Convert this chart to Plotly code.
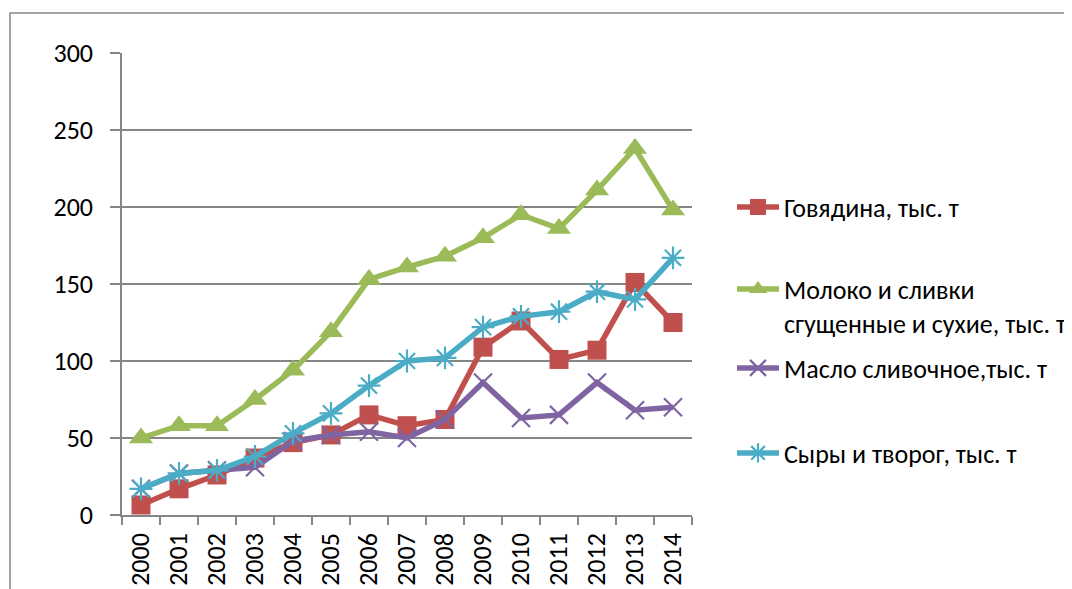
import plotly.graph_objects as go

years = [str(y) for y in range(2000, 2015)]
beef = [6.5, 17, 26, 37, 47, 52, 65, 58, 62, 109, 126, 101, 107, 151, 125]
milk = [50, 58, 58, 75, 94, 119, 153, 161, 168, 180, 195, 186, 211, 238, 198]
butter = [17, 27, 29, 31, 48, 52, 54, 50, 62, 86, 63, 65, 86, 68, 70]
cheese = [17, 27, 29, 38, 53, 66, 84, 100, 102, 122, 129, 132, 145, 140, 167]

names = ["Говядина, тыс. т",
         "Молоко и сливки<br>сгущенные и сухие, тыс. т",
         "Масло сливочное,тыс. т",
         "Сыры и творог, тыс. т"]
colors = ["#C0504D", "#9BBB59", "#8064A2", "#4BACC6"]
series = [beef, milk, butter, cheese]
symbols = ["square", "triangle-up", "x-thin-open", "asterisk-open"]
sizes = [19, 21, 18, 19]
legend_ids = ["legend", "legend2", "legend3", "legend4"]
legend_centers = [207, 306, 368, 453]  # screen y of legend item centres

FONT = "Calibri, Carlito, Lato, sans-serif"
FS = 26
OFF = 8  # default body margin of the html page

W, H = 1072 - OFF, 589 - OFF
l, r, t, b = 122 - OFF, 1072 - 692, 53 - OFF, 589 - 515
pw, ph = W - l - r, H - t - b


def px(x):
    return (x - OFF - l) / pw


def py(y):
    return (H - b - (y - OFF)) / ph


fig = go.Figure()
for i, (n, c, s, sym, sz) in enumerate(zip(names, colors, series, symbols, sizes)):
    mk = dict(symbol=sym, size=sz, color=c)
    if "open" in sym:
        mk["line"] = dict(color=c, width=2.2)
    fig.add_trace(go.Scatter(x=years, y=s, name=n, mode="lines+markers",
                             line=dict(color=c, width=5.5), marker=mk,
                             legend=legend_ids[i]))

legends = {}
for lid, yc in zip(legend_ids, legend_centers):
    legends[lid] = dict(x=px(732), y=py(yc), xanchor="left", yanchor="middle",
                        font=dict(size=FS, family=FONT, color="black"),
                        itemwidth=42, valign="top", bgcolor="rgba(0,0,0,0)",
                        borderwidth=0)

fig.update_layout(
    width=W, height=H,
    margin=dict(l=l, r=r, t=t, b=b, autoexpand=False),
    paper_bgcolor="white", plot_bgcolor="white",
    font=dict(family=FONT, size=FS, color="black"),
    showlegend=True,
    xaxis=dict(type="category", showline=True, linecolor="#868686", linewidth=1.5,
               ticks="outside", ticklen=8, tickcolor="#868686", tickwidth=1.5,
               tickson="boundaries", tickangle=-90, showgrid=False,
               tickfont=dict(size=FS, family=FONT), range=[-0.5, 14.5],
               ticklabelstandoff=6),
    yaxis=dict(range=[0, 300], dtick=50, showline=True, linecolor="#868686", linewidth=1.5,
               ticks="outside", ticklen=10, tickcolor="#868686", tickwidth=1.5,
               showgrid=True, gridcolor="#868686", gridwidth=1.5, zeroline=False,
               tickfont=dict(size=FS, family=FONT), ticklabelstandoff=12),
    shapes=[dict(type="rect", xref="paper", yref="paper",
                 x0=px(10), x1=px(1100), y0=py(620), y1=py(13),
                 line=dict(color="#868686", width=1.5), fillcolor="rgba(0,0,0,0)",
                 layer="below")],
    **legends,
)
fig.write_html("out.html")
